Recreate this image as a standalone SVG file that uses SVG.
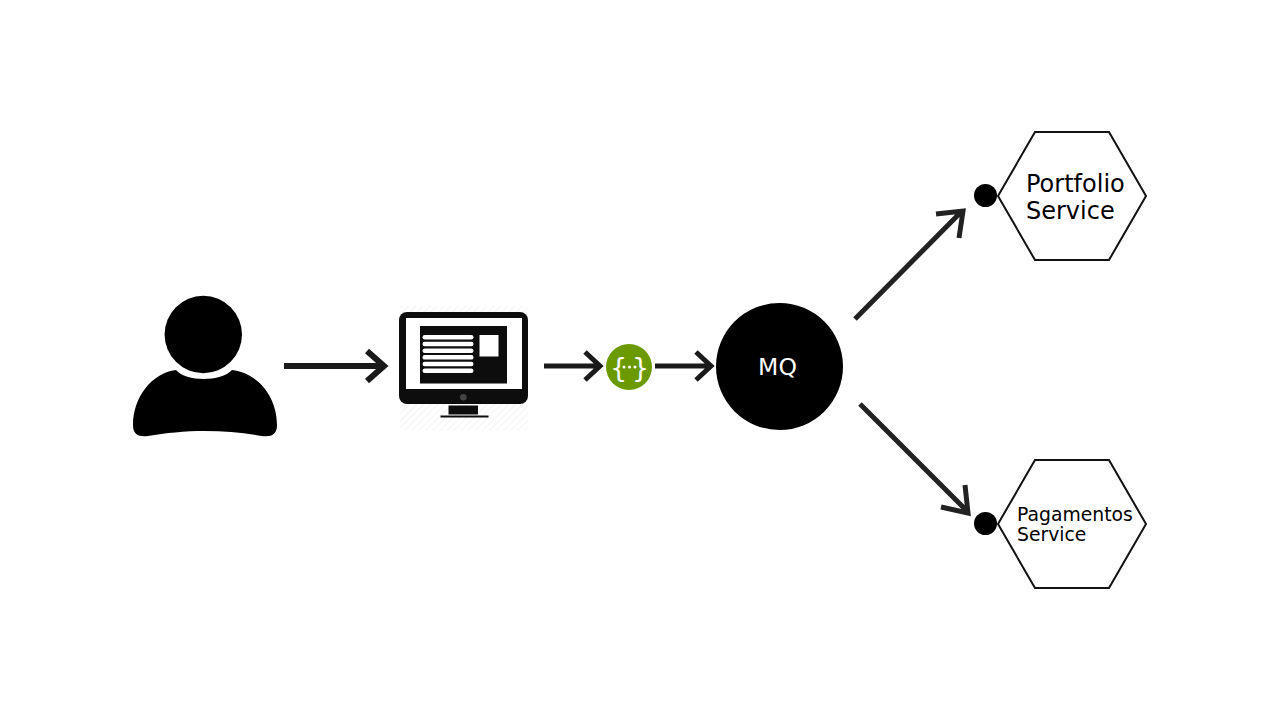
<svg xmlns="http://www.w3.org/2000/svg" width="1280" height="720" viewBox="0 0 1280 720">
<defs>
<pattern id="hatch" width="5" height="5" patternUnits="userSpaceOnUse" patternTransform="rotate(45)"><rect width="5" height="5" fill="#fff"/><rect width="1" height="5" fill="#f4f4f4"/></pattern>
</defs>
<style>
.lbl{font-family:"DejaVu Sans",sans-serif}
.arr{fill:none;stroke:#1a1a1a;stroke-linecap:butt;stroke-linejoin:miter}
.arrd{fill:none;stroke:#222;stroke-width:5}
.hex{fill:#fff;stroke:#111;stroke-width:2}
.bar{fill:#fff}
.dot{fill:#fff}
</style>
<rect width="1280" height="720" fill="#fff"/>
<g id="user">
<circle cx="203.300" cy="334.500" r="38.700" fill="#000"/>
<path d="M176 370 C186 382 221 382 232 370 C258 373 277 397 277 425 C277 435 271 437 262 436 C245 433 225 431 205 431 C185 431 165 433 148 436 C139 437 133 435 133 425 C133 397 152 373 176 370Z" fill="#000"/>
</g>
<g id="monitor">
<rect x="400" y="306" width="128" height="125" fill="url(#hatch)"/>
<rect x="399" y="312" width="129" height="92" rx="8" fill="#0d0d0d"/>
<rect x="406" y="318" width="116" height="71" fill="#fff"/>
<rect x="420" y="326" width="87" height="57.500" fill="#0d0d0d"/>
<rect class="bar" x="422.500" y="335" width="51" height="4.500" rx="2.200"/>
<rect class="bar" x="422.500" y="341.700" width="51" height="4.500" rx="2.200"/>
<rect class="bar" x="422.500" y="348.400" width="51" height="4.500" rx="2.200"/>
<rect class="bar" x="422.500" y="355.100" width="51" height="4.500" rx="2.200"/>
<rect class="bar" x="422.500" y="361.800" width="51" height="4.500" rx="2.200"/>
<rect class="bar" x="422.500" y="368.500" width="51" height="4.500" rx="2.200"/>
<rect class="bar" x="479.500" y="335" width="19" height="21.500"/>
<circle cx="463.300" cy="397.300" r="3.300" fill="#444"/>
<rect x="448.500" y="405.500" width="29.500" height="9" fill="#0d0d0d"/>
<rect x="440.500" y="415.500" width="48" height="2" fill="#0d0d0d"/>
</g>
<g id="swagger">
<circle cx="629" cy="367" r="23" fill="#6b9a00"/>
<text class="lbl" x="618.500" y="377" text-anchor="middle" font-size="27" fill="#fff">{</text>
<text class="lbl" x="640.500" y="377" text-anchor="middle" font-size="27" fill="#fff">}</text>
<circle class="dot" cx="624" cy="367" r="1.500"/>
<circle class="dot" cx="629.500" cy="367" r="1.500"/>
<circle class="dot" cx="635" cy="367" r="1.500"/>
</g>
<g id="mq">
<circle cx="779.500" cy="366.500" r="63.500" fill="#000"/>
<text class="lbl" x="777.500" y="374.500" text-anchor="middle" font-size="23.500" fill="#fff">MQ</text>
</g>
<g id="portfolio">
<circle cx="985.500" cy="195.500" r="11.500" fill="#000"/>
<polygon class="hex" points="998,196 1035,132 1109,132 1146,196 1109,260 1035,260"/>
<text class="lbl" font-size="24" fill="#000"><tspan x="1026" y="191.500">Portfolio</tspan><tspan x="1026" y="219">Service</tspan></text>
</g>
<g id="pagamentos">
<circle cx="985.500" cy="523.500" r="11.500" fill="#000"/>
<polygon class="hex" points="998,524 1035,460 1109,460 1146,524 1109,588 1035,588"/>
<text class="lbl" font-size="18.800" fill="#000"><tspan x="1017" y="520.500">Pagamentos</tspan><tspan x="1017" y="541">Service</tspan></text>
</g>
<g id="connectors">
<path class="arr" stroke-width="6" d="M284 366H383M367 351L384 366L367 381"/>
<path class="arr" stroke-width="5" d="M544 366H599M585 352L600 366L585 380"/>
<path class="arr" stroke-width="5" d="M655 366H710M696 352L711 366L696 380"/>
<path class="arrd" d="M855 319L962 211M936 214L963 211L959 238"/>
<path class="arrd" d="M860 404L968 512M965 485L968 513L941 507"/>
</g>
</svg>
